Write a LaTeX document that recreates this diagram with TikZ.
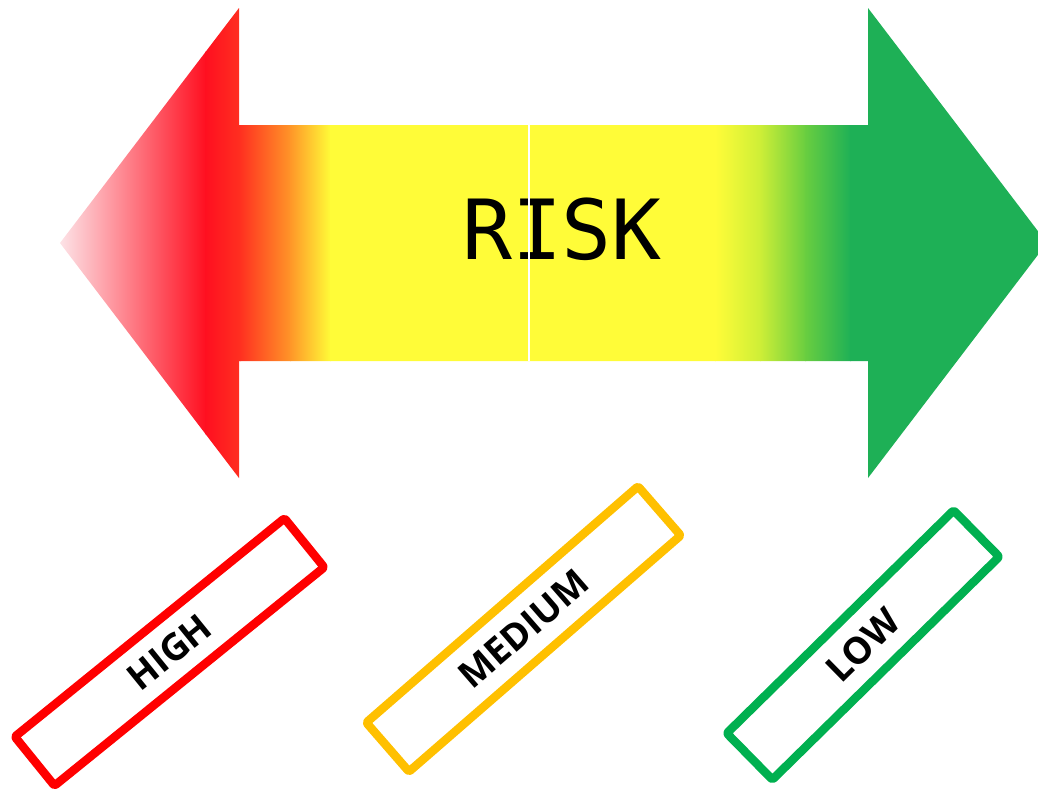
\documentclass[tikz,border=0pt]{standalone}
\usepackage{fontspec}
\setmainfont{Open Sans}
\newfontfamily\riskfont{DejaVu Sans Mono}
\definecolor{tipc}{RGB}{253,228,232}
\definecolor{rr}{RGB}{255,15,32}
\definecolor{ro}{RGB}{255,48,32}
\definecolor{oo}{RGB}{255,150,40}
\definecolor{yy}{RGB}{255,252,56}
\definecolor{yg}{RGB}{205,238,55}
\definecolor{mg}{RGB}{105,206,64}
\definecolor{gg}{RGB}{30,176,86}
\definecolor{boxred}{RGB}{255,0,0}
\definecolor{boxorange}{RGB}{255,192,0}
\definecolor{boxgreen}{RGB}{0,176,80}
\tikzset{
  levelbox/.style={draw=#1, line width=8.5pt, rounded corners=2pt, line join=round,
    fill=white, inner sep=0pt, font=\bfseries\fontsize{37}{40}\selectfont, text=black},
}
\begin{document}
\begin{tikzpicture}[x=1pt,y=-1pt]
\useasboundingbox (0,0) rectangle (1038,790);
\begin{scope}
  \clip (0,0) rectangle (1038,790);
  \clip (60,243) -- (239,8) -- (239,125) -- (868,125) -- (868,8) -- (1047,243)
        -- (868,478) -- (868,361) -- (239,361) -- (239,478) -- cycle;
  \shade[left color=tipc, right color=rr] (59,0) rectangle (206,490);
  \shade[left color=rr, right color=ro] (205,0) rectangle (241,490);
  \shade[left color=ro, right color=oo] (240,0) rectangle (291,490);
  \shade[left color=oo, right color=yy] (290,0) rectangle (331,490);
  \fill[yy] (330,0) rectangle (716,490);
  \shade[left color=yy, right color=yg] (715,0) rectangle (761,490);
  \shade[left color=yg, right color=mg] (760,0) rectangle (806,490);
  \shade[left color=mg, right color=gg] (805,0) rectangle (851,490);
  \fill[gg] (850,0) rectangle (1050,490);
\end{scope}
\node[font=\riskfont\fontsize{83}{90}\selectfont, inner sep=0pt] (risk) at (562,229) {RISK};
\coordinate (divtop) at (529,125);
\coordinate (divbot) at (529,361);
\draw[white, line width=2pt] (divtop) -- (divbot);
\node[levelbox=boxred, rotate=39.0, minimum width=347pt, minimum height=63pt] (high) at (169.5,652) {HIGH};
\node[levelbox=boxorange, rotate=41.0, minimum width=360pt, minimum height=65pt] (medium) at (523.5,629) {MEDIUM};
\node[levelbox=boxgreen, rotate=44.5, minimum width=318pt, minimum height=65pt] (low) at (863,645) {LOW};
\end{tikzpicture}
\end{document}
